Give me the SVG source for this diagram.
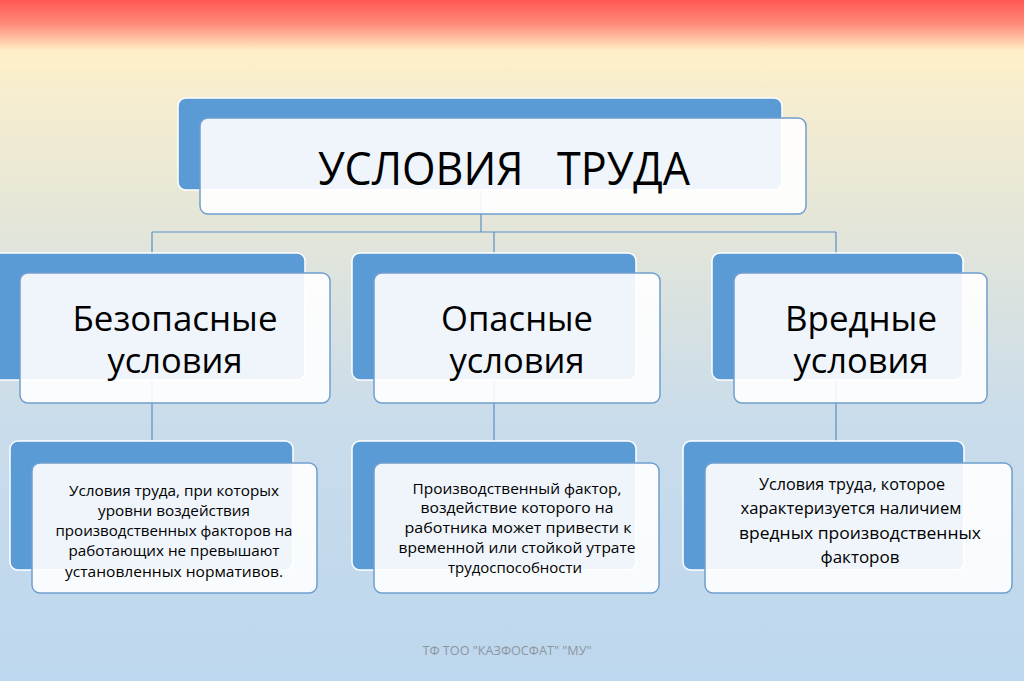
<svg xmlns="http://www.w3.org/2000/svg" width="1024" height="681" viewBox="0 0 1024 681">
<defs>
<linearGradient id="bg" x1="0" y1="0" x2="0" y2="1">
<stop offset="0" stop-color="#ff5753"/>
<stop offset="0.035" stop-color="#ff8a78"/>
<stop offset="0.075" stop-color="#fff0c8"/>
<stop offset="0.14" stop-color="#f6edcf"/>
<stop offset="0.35" stop-color="#e2e5da"/>
<stop offset="0.62" stop-color="#c9dceb"/>
<stop offset="1" stop-color="#bdd7ee"/>
</linearGradient>
<style>
.back{fill:#5b9bd5;stroke:#ffffff;stroke-width:1.5}
.front{fill:#ffffff;fill-opacity:0.9;stroke:#6f9fce;stroke-width:1.5}
.conn{stroke:#5b8fc4;stroke-width:1.2;fill:none}
.t1{font-family:"Open Sans","Noto Sans",sans-serif;fill:#000;text-anchor:middle}
.big{font-size:45px}
.mid{font-size:34px}
.sm{font-size:14.5px}
.sm2{font-size:16.5px}
</style>
</defs>
<rect x="0" y="0" width="1024" height="681" fill="url(#bg)"/>
<g id="connectors">
<path class="conn" d="M481 190 V232 M152 232 H836 M152 232 V441 M494 232 V441 M836 232 V441"/>
</g>
<g id="root">
<rect class="back" x="178" y="98" width="604" height="92" rx="8"/>
<rect class="front" x="200" y="118" width="606" height="96" rx="8"/>
<text class="t1 big" x="504" y="185" xml:space="preserve" textLength="372" lengthAdjust="spacingAndGlyphs">УСЛОВИЯ   ТРУДА</text>
</g>
<g id="safe">
<rect class="back" x="-8" y="253" width="313" height="127" rx="8"/>
<rect class="front" x="20" y="273" width="310" height="130" rx="8"/>
<text class="t1 mid" x="175" y="331" textLength="205" lengthAdjust="spacingAndGlyphs">Безопасные</text>
<text class="t1 mid" x="175" y="373" textLength="135" lengthAdjust="spacingAndGlyphs">условия</text>
</g>
<g id="danger">
<rect class="back" x="352" y="253" width="284" height="127" rx="8"/>
<rect class="front" x="374" y="273" width="286" height="130" rx="8"/>
<text class="t1 mid" x="517" y="331" textLength="152" lengthAdjust="spacingAndGlyphs">Опасные</text>
<text class="t1 mid" x="517" y="373" textLength="135" lengthAdjust="spacingAndGlyphs">условия</text>
</g>
<g id="harmful">
<rect class="back" x="712" y="253" width="251" height="127" rx="8"/>
<rect class="front" x="734" y="273" width="253" height="130" rx="8"/>
<text class="t1 mid" x="861" y="331" textLength="152" lengthAdjust="spacingAndGlyphs">Вредные</text>
<text class="t1 mid" x="861" y="373" textLength="135" lengthAdjust="spacingAndGlyphs">условия</text>
</g>
<g id="safe-desc">
<rect class="back" x="10" y="441" width="283" height="129" rx="8"/>
<rect class="front" x="32" y="463" width="285" height="130" rx="8"/>
<text class="t1 sm" x="174" y="496" textLength="210" lengthAdjust="spacingAndGlyphs">Условия труда, при которых</text>
<text class="t1 sm" x="174" y="516" textLength="152" lengthAdjust="spacingAndGlyphs">уровни воздействия</text>
<text class="t1 sm" x="174" y="536" textLength="237" lengthAdjust="spacingAndGlyphs">производственных факторов на</text>
<text class="t1 sm" x="174" y="556" textLength="211" lengthAdjust="spacingAndGlyphs">работающих не превышают</text>
<text class="t1 sm" x="174" y="577" textLength="218" lengthAdjust="spacingAndGlyphs">установленных нормативов.</text>
</g>
<g id="danger-desc">
<rect class="back" x="352" y="441" width="284" height="129" rx="8"/>
<rect class="front" x="374" y="463" width="285" height="130" rx="8"/>
<text class="t1 sm" x="517" y="494" textLength="209" lengthAdjust="spacingAndGlyphs">Производственный фактор,</text>
<text class="t1 sm" x="517" y="513" textLength="193" lengthAdjust="spacingAndGlyphs">воздействие которого на</text>
<text class="t1 sm" x="518" y="533" textLength="227" lengthAdjust="spacingAndGlyphs">работника может привести к</text>
<text class="t1 sm" x="517" y="553" textLength="237" lengthAdjust="spacingAndGlyphs">временной или стойкой утрате</text>
<text class="t1 sm" x="515" y="573" textLength="134" lengthAdjust="spacingAndGlyphs">трудоспособности</text>
</g>
<g id="harmful-desc">
<rect class="back" x="683" y="441" width="281" height="129" rx="8"/>
<rect class="front" x="705" y="463" width="307" height="130" rx="8"/>
<text class="t1 sm2" x="852" y="490" textLength="186" lengthAdjust="spacingAndGlyphs">Условия труда, которое</text>
<text class="t1 sm2" x="851" y="514" textLength="221" lengthAdjust="spacingAndGlyphs">характеризуется наличием</text>
<text class="t1 sm2" x="860" y="539" textLength="242" lengthAdjust="spacingAndGlyphs">вредных производственных</text>
<text class="t1 sm2" x="860" y="563" textLength="79" lengthAdjust="spacingAndGlyphs">факторов</text>
</g>
<text x="507" y="655" font-family="Open Sans, sans-serif" font-size="12" fill="#8c96a0" text-anchor="middle" textLength="169" lengthAdjust="spacingAndGlyphs">ТФ ТОО "КАЗФОСФАТ" "МУ"</text>
</svg>
